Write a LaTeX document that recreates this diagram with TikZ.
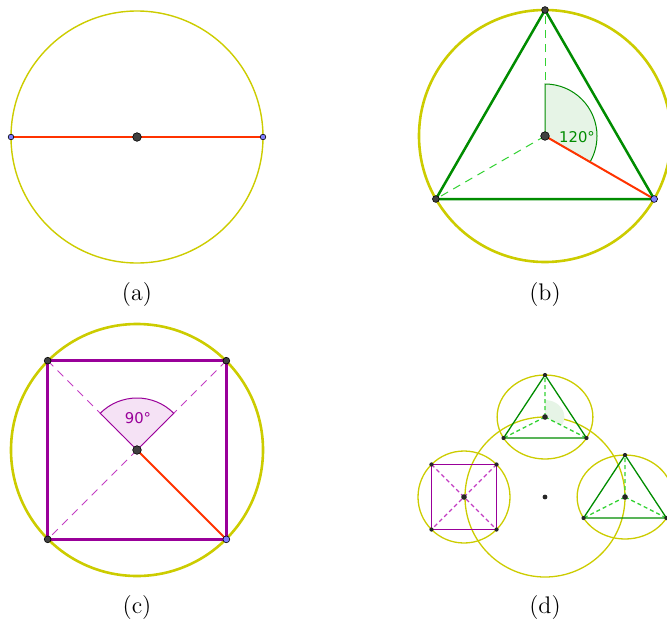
\documentclass[tikz,border=0pt]{standalone}
\usepackage{fontspec}
\newfontfamily\anglefont{DejaVu Sans}
\usepackage{tikz}

\definecolor{ggyellow}{RGB}{204,204,0}
\definecolor{gggreen}{RGB}{0,140,0}
\definecolor{gglime}{RGB}{50,210,50}
\definecolor{gggreenfill}{RGB}{230,244,230}
\definecolor{ggred}{RGB}{255,51,0}
\definecolor{ggpurple}{RGB}{153,0,153}
\definecolor{ggpink}{RGB}{195,60,195}
\definecolor{ggpurplefill}{RGB}{245,226,245}
\definecolor{ggblue}{RGB}{125,125,255}
\definecolor{ggdark}{RGB}{64,64,64}

\begin{document}
\begin{tikzpicture}[x=0.5pt,y=0.5pt,
  circthin/.style={draw=ggyellow,line width=0.7pt},
  circthick/.style={draw=ggyellow,line width=1.3pt},
  edgegreen/.style={draw=gggreen,line width=1.25pt,line join=round},
  edgepurple/.style={draw=ggpurple,line width=1.25pt,line join=round},
  dashgreen/.style={draw=gglime,line width=0.5pt,dash pattern=on 4pt off 3pt},
  dashpurple/.style={draw=ggpink,line width=0.5pt,dash pattern=on 4pt off 3pt},
  radline/.style={draw=ggred,line width=1pt},
  ptbig/.style={circle,fill=ggdark,draw=black,line width=0.3pt,inner sep=0pt,minimum size=4.3pt},
  ptsmall/.style={circle,fill=ggdark,draw=black,line width=0.3pt,inner sep=0pt,minimum size=3.4pt},
  ptblue/.style={ptsmall,fill=ggblue},
  pttiny/.style={circle,fill=black!85,inner sep=0pt,minimum size=2.1pt},
  caption/.style={font=\fontsize{12}{14}\selectfont},
  anglabel/.style={font=\anglefont\fontsize{7.4}{9}\selectfont,inner sep=0pt}]
\clip (0,0) rectangle (667,623);
% (a) diameter
\begin{scope}[shift={(137,486)}]
\coordinate (aO) at (0,0);
\coordinate (aL) at (180:126);
\coordinate (aR) at (0:126);
\draw[circthin] (aO) circle[radius=126];
\draw[radline,line width=0.8pt] (aL) -- (aR);
\node[ptblue,minimum size=2.8pt] (aLpt) at (aL) {};
\node[ptblue,minimum size=2.8pt] (aRpt) at (aR) {};
\node[ptbig] (aOpt) at (aO) {};
\end{scope}
\node[caption] (acap) at (137,328) {(a)};
% (b) triangle
\begin{scope}[shift={(545,487)}]
\coordinate (bO) at (0,0);
\coordinate (bT) at (90:126);
\coordinate (bL) at (210:126);
\coordinate (bR) at (330:126);
\draw[circthick] (bO) circle[radius=126];
\draw[dashgreen] (bO) -- (bT);
\draw[dashgreen] (bO) -- (bL);
\filldraw[fill=gggreenfill,draw=gggreen,line width=0.5pt] (bO) -- (90:52) arc[start angle=90,end angle=-30,radius=52] -- cycle;
\draw[radline] (bO) -- (bR);
\draw[edgegreen] (bT) -- (bL) -- (bR) -- cycle;
\node[anglabel,text=gggreen] (bang) at (32,-1) {120°};
\node[ptsmall] (bTpt) at (bT) {};
\node[ptsmall] (bLpt) at (bL) {};
\node[ptblue] (bRpt) at (bR) {};
\node[ptbig] (bOpt) at (bO) {};
\end{scope}
\node[caption] (bcap) at (545,328) {(b)};
% (c) square
\begin{scope}[shift={(137,173)}]
\coordinate (cO) at (0,0);
\coordinate (cTR) at (45:126.3);
\coordinate (cTL) at (135:126.3);
\coordinate (cBL) at (225:126.3);
\coordinate (cBR) at (315:126.3);
\draw[circthick] (cO) circle[radius=126];
\draw[dashpurple] (cTL) -- (cO);
\draw[dashpurple] (cTR) -- (cO);
\draw[dashpurple] (cO) -- (cBL);
\filldraw[fill=ggpurplefill,draw=ggpurple,line width=0.5pt] (cO) -- (45:52) arc[start angle=45,end angle=135,radius=52] -- cycle;
\draw[radline] (cO) -- (cBR);
\draw[edgepurple] (cTL) -- (cTR) -- (cBR) -- (cBL) -- cycle;
\node[anglabel,text=ggpurple] (cang) at (1,32) {90°};
\node[ptsmall] (cTLpt) at (cTL) {};
\node[ptsmall] (cTRpt) at (cTR) {};
\node[ptsmall] (cBLpt) at (cBL) {};
\node[ptblue] (cBRpt) at (cBR) {};
\node[ptbig] (cOpt) at (cO) {};
\end{scope}
\node[caption] (ccap) at (137,16) {(c)};
% (d) small figures on a circle
\begin{scope}[shift={(545,126)}]
\coordinate (dO) at (0,0);
\draw[circthin,line width=0.65pt] (dO) circle[radius=80];
\node[pttiny,minimum size=2.4pt] (dOpt) at (dO) {};
\begin{scope}[shift={(0,80)},xscale=1.14]
\coordinate (dtO) at (0,0);
\coordinate (dtT) at (90:42);
\coordinate (dtL) at (210:42);
\coordinate (dtR) at (330:42);
\draw[circthin,line width=0.65pt] (dtO) circle[radius=42];
\fill[gggreenfill] (dtO) -- (90:17) arc[start angle=90,end angle=-30,radius=17] -- cycle;
\draw[dashgreen,line width=0.65pt,dash pattern=on 2pt off 1.5pt] (dtO) -- (dtT) (dtO) -- (dtL) (dtO) -- (dtR);
\draw[draw=gggreen,line width=0.65pt] (dtT) -- (dtL) -- (dtR) -- cycle;
\end{scope}
\begin{scope}[shift={(80,0)},xscale=1.14]
\coordinate (drO) at (0,0);
\coordinate (drT) at (90:42);
\coordinate (drL) at (210:42);
\coordinate (drR) at (330:42);
\draw[circthin,line width=0.65pt] (drO) circle[radius=42];
\draw[dashgreen,line width=0.65pt,dash pattern=on 2pt off 1.5pt] (drO) -- (drT) (drO) -- (drL) (drO) -- (drR);
\draw[draw=gggreen,line width=0.65pt] (drT) -- (drL) -- (drR) -- cycle;
\end{scope}
\begin{scope}[shift={(-81,0)}]
\coordinate (dlO) at (0,0);
\coordinate (dlTR) at (45:46);
\coordinate (dlTL) at (135:46);
\coordinate (dlBL) at (225:46);
\coordinate (dlBR) at (315:46);
\draw[circthin,line width=0.65pt] (dlO) circle[radius=46];
\draw[dashpurple,line width=0.65pt,dash pattern=on 2pt off 1.5pt] (dlTL) -- (dlBR) (dlTR) -- (dlBL);
\draw[draw=ggpurple,line width=0.65pt] (dlTL) -- (dlTR) -- (dlBR) -- (dlBL) -- cycle;
\end{scope}
\foreach \p in {dtT,dtL,dtR,drT,drL,drR,dlTL,dlTR,dlBL,dlBR}
  \node[pttiny] (\p pt) at (\p) {};
\foreach \p in {dtO,drO,dlO}
  \node[pttiny,minimum size=2.8pt] (\p pt) at (\p) {};
\end{scope}
\node[caption] (dcap) at (545,16) {(d)};
\end{tikzpicture}
\end{document}
